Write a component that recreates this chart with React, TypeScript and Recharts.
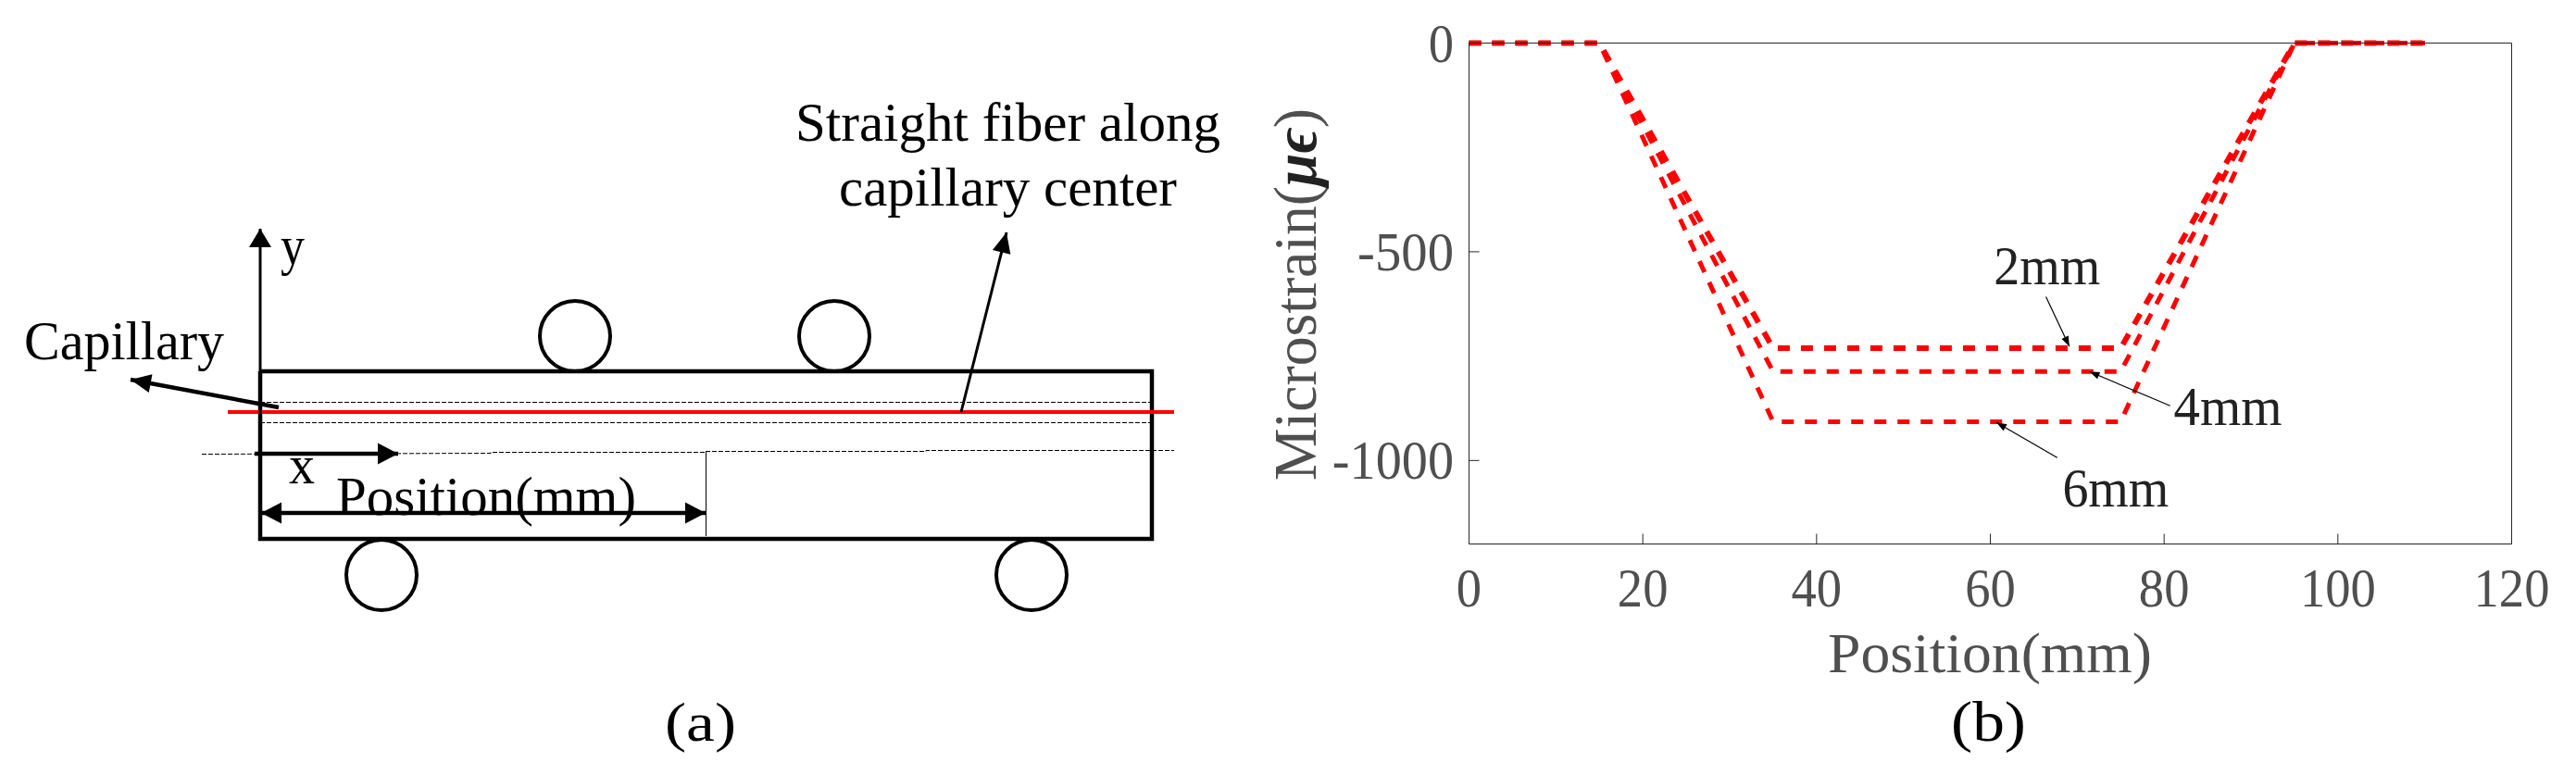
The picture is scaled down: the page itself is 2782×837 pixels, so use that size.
import { LineChart, Line, XAxis, YAxis, ReferenceDot } from 'recharts';

// panel (b) values
const positions = [0, 15, 35, 75, 95, 110];
const strain2mm = [0, 0, -731, -731, 0, 0];
const strain4mm = [0, 0, -787, -787, 0, 0];
const strain6mm = [0, 0, -907, -907, 0, 0];
const xTicks = [0, 20, 40, 60, 80, 100, 120];
const yTicks = [0, -500, -1000];

// leader arrows and their labels on panel (b), in data units
const leader2mm = [{ x: 66.4, y: -608 }, { x: 69.1, y: -727 }];
const leader4mm = [{ x: 80.7, y: -869 }, { x: 71.4, y: -787 }];
const leader6mm = [{ x: 67.7, y: -993 }, { x: 60.7, y: -909 }];
const leaderLabels = [
  { text: '2mm', x: 60.4, y: -578, width: 115 },
  { text: '4mm', x: 81.1, y: -916, width: 117 },
  { text: '6mm', x: 68.3, y: -1111, width: 115 },
];

// panel (a) schematic, in picture units
const beamOutline = [
  { x: 281, y: 401 }, { x: 1244, y: 401 }, { x: 1244, y: 582 }, { x: 281, y: 582 }, { x: 281, y: 401 },
];
const capillaryTop = [{ x: 281, y: 434.5 }, { x: 1244, y: 434.5 }];
const capillaryBottom = [{ x: 281, y: 456.5 }, { x: 1244, y: 456.5 }];
const fiber = [{ x: 246, y: 445 }, { x: 1268, y: 445 }];
const neutralAxis = [
  { x: 218, y: 490.5 }, { x: 530, y: 489.5 }, { x: 530, y: 488.5 }, { x: 762, y: 488.5 }, { x: 762, y: 487.5 },
  { x: 1000, y: 487.5 }, { x: 1000, y: 486.5 }, { x: 1268, y: 486.5 },
];
const positionMark = [{ x: 762.5, y: 487 }, { x: 762.5, y: 579 }];
const yArrow = [{ x: 281, y: 490 }, { x: 281, y: 247 }];
const xArrow = [{ x: 275, y: 490 }, { x: 430, y: 490 }];
const positionLeft = [{ x: 522, y: 554 }, { x: 282, y: 554 }];
const positionRight = [{ x: 522, y: 554 }, { x: 762, y: 554 }];
const fiberArrow = [{ x: 1038, y: 445 }, { x: 1087, y: 251 }];
const capillaryArrow = [{ x: 301, y: 440 }, { x: 141, y: 410 }];
const rollers = [{ x: 621, y: 363 }, { x: 901, y: 363 }, { x: 412, y: 621 }, { x: 1114, y: 621 }];
const schematicLabels = [
  { text: 'Straight fiber along', x: 859, y: 152, width: 459 },
  { text: 'capillary center', x: 906, y: 222, width: 365 },
  { text: 'Capillary', x: 26, y: 388, width: 216 },
  { text: 'y', x: 303, y: 285, width: 26 },
  { text: 'x', x: 312, y: 522, width: 28 },
  { text: 'Position(mm)', x: 363, y: 556, width: 324 },
  { text: '(a)', x: 718, y: 800, width: 77 },
];

const serif = '"Liberation Serif", "Times New Roman", serif';
const axisGrey = '#4f4f4f';

function StretchText({ x, y, width, text, size = 60, fill = '#111', anchor = 'start' }: any) {
  return (
    <text x={x} y={y} fontFamily={serif} fontSize={size} fill={fill} textAnchor={anchor}
      textLength={width} lengthAdjust="spacingAndGlyphs">
      {text}
    </text>
  );
}

const arrowHead = (length: number, spread: number) => (p: any) => {
  const last = p.points && p.index === p.points.length - 1;
  if (!last) return <g key={p.index} />;
  const prev = p.points[p.index - 1];
  const angle = (Math.atan2(p.cy - prev.y, p.cx - prev.x) * 180) / Math.PI;
  return (
    <polygon key={p.index} fill="#000"
      points={`0,0 ${-length},${-spread / 2} ${-length},${spread / 2}`}
      transform={`translate(${p.cx} ${p.cy}) rotate(${angle})`} />
  );
};

const zip = (values: number[]) => positions.map((x, i) => ({ x, y: values[i] }));

const tickWidth = (label: number) => {
  const s = String(Math.abs(label));
  return s.length * 27.3 + (label < 0 ? 22 : 0);
};

function SchematicChart() {
  const plain = (data: any[], stroke: string, strokeWidth: number, dash?: string, dot: any = false) => (
    <Line data={data} dataKey="y" stroke={stroke} strokeWidth={strokeWidth} strokeDasharray={dash}
      dot={dot} activeDot={false} isAnimationActive={false} legendType="none" />
  );
  return (
    <LineChart width={1340} height={837} margin={{ top: 0, right: 0, bottom: 0, left: 0 }}>
      <XAxis type="number" dataKey="x" domain={[0, 1340]} hide />
      <YAxis type="number" domain={[0, 837]} reversed hide />
      {schematicLabels.map((l) => (
        <ReferenceDot key={l.text} x={l.x} y={l.y} r={0} ifOverflow="visible"
          shape={(p: any) => (
            <StretchText x={p.cx} y={p.cy} width={l.width} text={l.text} fill="#000" />
          )} />
      ))}
      {plain(capillaryTop, '#000', 1, '5 2')}
      {plain(capillaryBottom, '#000', 1, '5 2')}
      {plain(neutralAxis, '#000', 1, '5 2')}
      {plain(positionMark, '#000', 1)}
      {plain(beamOutline, '#000', 4.5)}
      {plain(fiber, '#ff0000', 4)}
      {plain(yArrow, '#000', 3, undefined, arrowHead(20, 24))}
      {plain(xArrow, '#000', 4.5, undefined, arrowHead(22, 23))}
      {plain(positionLeft, '#000', 4.5, undefined, arrowHead(22, 23))}
      {plain(positionRight, '#000', 4.5, undefined, arrowHead(22, 23))}
      {plain(fiberArrow, '#000', 3, undefined, arrowHead(22, 20))}
      {plain(capillaryArrow, '#000', 4.5, undefined, arrowHead(22, 20))}
      {rollers.map((r) => (
        <ReferenceDot key={`${r.x}-${r.y}`} x={r.x} y={r.y} r={38} fill="none" stroke="#000"
          strokeWidth={4} ifOverflow="visible" />
      ))}
    </LineChart>
  );
}

function StrainChart() {
  const curve = (values: number[], strokeWidth: number) => (
    <Line data={zip(values)} dataKey="y" stroke="#ff0000" strokeWidth={strokeWidth} strokeDasharray="13 12"
      dot={false} activeDot={false} isAnimationActive={false} legendType="none" />
  );
  const leader = (data: any[]) => (
    <Line data={data} dataKey="y" stroke="#000" strokeWidth={1.2} dot={arrowHead(11, 8)} activeDot={false}
      isAnimationActive={false} legendType="none" />
  );
  const axisLine = { stroke: '#262626', strokeWidth: 1 };
  return (
    <LineChart width={1442} height={837} margin={{ top: 45.5, right: 68.5, bottom: 248.5, left: 245.5 }}>
      <XAxis type="number" dataKey="x" domain={[0, 120]} ticks={xTicks} height={1} tickSize={-11}
        axisLine={axisLine} tickLine={axisLine} interval={0}
        tick={(p: any) => (
          <StretchText x={p.x} y={655} width={tickWidth(p.payload.value)} text={p.payload.value}
            fill={axisGrey} anchor="middle" />
        )} />
      <XAxis xAxisId="top" orientation="top" type="number" dataKey="x" domain={[0, 120]} ticks={xTicks}
        height={1} tickSize={-11} axisLine={axisLine} tickLine={axisLine} interval={0} tick={() => <g />} />
      <YAxis type="number" domain={[-1200, 0]} ticks={yTicks} width={1} tickSize={-11}
        axisLine={axisLine} tickLine={axisLine} interval={0}
        tick={(p: any) => (
          <StretchText x={230} y={p.y + 20} width={tickWidth(p.payload.value)} text={p.payload.value}
            fill={axisGrey} anchor="end" />
        )} />
      <YAxis yAxisId="right" orientation="right" type="number" domain={[-1200, 0]} ticks={yTicks} width={1}
        tickSize={-11} axisLine={axisLine} tickLine={axisLine} interval={0} tick={() => <g />} />
      {curve(strain6mm, 5)}
      {curve(strain4mm, 5)}
      {curve(strain2mm, 6)}
      {leader(leader2mm)}
      {leader(leader4mm)}
      {leader(leader6mm)}
      {leaderLabels.map((l) => (
        <ReferenceDot key={l.text} x={l.x} y={l.y} r={0} ifOverflow="visible"
          shape={(p: any) => <StretchText x={p.cx} y={p.cy} width={l.width} text={l.text} fill="#222" />} />
      ))}
      <StretchText x={634} y={726} width={350} text="Position(mm)" fill={axisGrey} size={62} />
      <StretchText x={767} y={800} width={81} text="(b)" fill="#000" size={62} />
      <text transform="translate(81 519) rotate(-90)" fontFamily={serif} fontSize={65} fill={axisGrey}
        textLength={402} lengthAdjust="spacingAndGlyphs">
        Microstrain(
        <tspan fontStyle="italic" fontWeight="bold" fill="#222">μϵ</tspan>
        )
      </text>
    </LineChart>
  );
}

export default function App() {
  return (
    <div style={{ position: 'absolute', left: 0, top: 0, width: 2782, height: 837, background: '#fff', overflow: 'hidden' }}>
      <div style={{ position: 'absolute', left: 0, top: 0 }}>
        <SchematicChart />
      </div>
      <div style={{ position: 'absolute', left: 1340, top: 0 }}>
        <StrainChart />
      </div>
    </div>
  );
}
